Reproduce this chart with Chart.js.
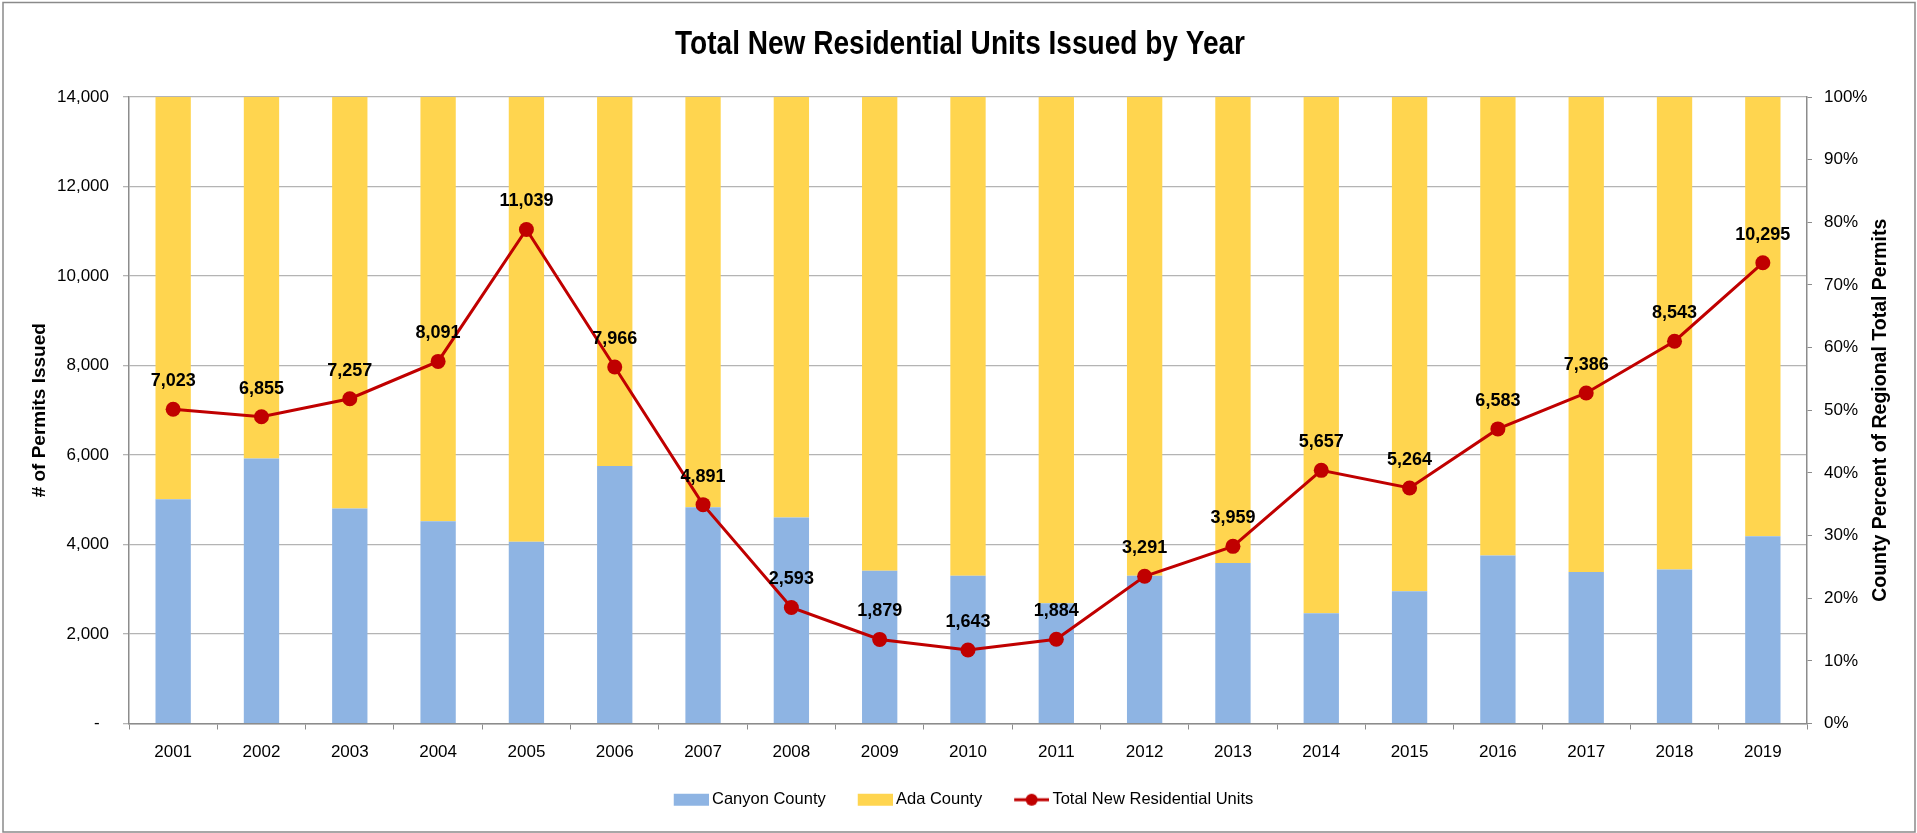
<!DOCTYPE html>
<html>
<head>
<meta charset="utf-8">
<title>Total New Residential Units Issued by Year</title>
<script src="https://cdn.jsdelivr.net/npm/chart.js@4.4.1/dist/chart.umd.min.js"></script>
<style>
  html, body { margin: 0; padding: 0; background: #fff; }
  #wrap { width: 1917px; height: 833px; position: relative; }
</style>
</head>
<body>
<div id="wrap"><canvas id="permitsChart"></canvas></div>
<script>
// --- Data ---
const years = ['2001', '2002', '2003', '2004', '2005', '2006', '2007', '2008', '2009', '2010',
               '2011', '2012', '2013', '2014', '2015', '2016', '2017', '2018', '2019'];

// share of regional permits, percent (right axis)
const canyonPct = [35.8, 42.3, 34.3, 32.3, 29.0, 41.1, 34.5, 32.9, 24.4, 23.6,
                   19.2, 23.6, 25.6, 17.6, 21.1, 26.8, 24.2, 24.6, 29.9];
const adaPct    = [64.2, 57.7, 65.7, 67.7, 71.0, 58.9, 65.5, 67.1, 75.6, 76.4,
                   80.8, 76.4, 74.4, 82.4, 78.9, 73.2, 75.8, 75.4, 70.1];

// total new residential units (left axis)
const totalUnits = [7023, 6855, 7257, 8091, 11039, 7966, 4891, 2593, 1879, 1643,
                    1884, 3291, 3959, 5657, 5264, 6583, 7386, 8543, 10295];

const seriesNames = ['Canyon County', 'Ada County', 'Total New Residential Units'];
const leftAxisMax = 14000;
const leftAxisStep = 2000;
const rightAxisStep = 10;

// --- Colours / fonts ---
const canyonColor = '#8EB4E3';
const adaColor = '#FFD54F';
const lineColor = '#C00000';
const gridColor = '#B4B4B4';
const axisColor = '#8C8C8C';
const sansFont = '"Liberation Sans", Arial, sans-serif';

/**
 * Legend icons: wide canvas with the visible mark on the right part,
 * so the gap before the text stays small like in Excel.
 */
function makeLegendIcon(kind, color) {
    const c = document.createElement('canvas');
    c.width = 64;
    c.height = 20;
    const g = c.getContext('2d');
    if (kind === 'box') {
        g.fillStyle = color;
        g.fillRect(29, 4, 35, 12);
    } else {
        g.strokeStyle = color;
        g.lineWidth = 3;
        g.beginPath();
        g.moveTo(29, 10);
        g.lineTo(64, 10);
        g.stroke();
        g.fillStyle = color;
        g.beginPath();
        g.arc(46.5, 10, 6, 0, Math.PI * 2);
        g.fill();
    }
    return c;
}

const legendIcons = [
    makeLegendIcon('box', canyonColor),
    makeLegendIcon('box', adaColor),
    makeLegendIcon('line', lineColor)
];

// --- Plugin: border, title, axis titles, value labels ---
const chartDecorations = {
    id: 'chartDecorations',
    beforeDraw(chart) {
        const ctx = chart.ctx;
        ctx.save();
        ctx.fillStyle = '#fff';
        ctx.fillRect(0, 0, chart.width, chart.height);
        ctx.restore();
    },
    afterDatasetsDraw(chart) {
        const ctx = chart.ctx;
        const meta = chart.getDatasetMeta(2);
        ctx.save();
        ctx.font = 'bold 18px ' + sansFont;
        ctx.fillStyle = '#000';
        ctx.textAlign = 'center';
        ctx.textBaseline = 'middle';
        meta.data.forEach(function (pt, i) {
            ctx.fillText(totalUnits[i].toLocaleString('en-US'), pt.x, pt.y - 28);
        });
        ctx.restore();
    },
    afterDraw(chart) {
        const ctx = chart.ctx;
        const area = chart.chartArea;
        const midY = (area.top + area.bottom) / 2;

        // outer frame
        ctx.save();
        ctx.strokeStyle = '#8A8A8A';
        ctx.lineWidth = 1.5;
        ctx.strokeRect(3, 2.5, 1912, 829.5);
        ctx.restore();

        // main title (condensed look: squeeze horizontally)
        ctx.save();
        ctx.fillStyle = '#000';
        ctx.textAlign = 'center';
        ctx.textBaseline = 'alphabetic';
        ctx.font = 'bold 33px ' + sansFont;
        ctx.translate(960, 54);
        ctx.scale(0.85, 1);
        ctx.fillText('Total New Residential Units Issued by Year', 0, 0);
        ctx.restore();

        // axis titles, both reading bottom-to-top
        ctx.save();
        ctx.fillStyle = '#000';
        ctx.textAlign = 'center';
        ctx.textBaseline = 'middle';
        ctx.font = 'bold 19px ' + sansFont;
        ctx.translate(40, midY);
        ctx.rotate(-Math.PI / 2);
        ctx.fillText('# of Permits Issued', 0, 0);
        ctx.restore();

        ctx.save();
        ctx.fillStyle = '#000';
        ctx.textAlign = 'center';
        ctx.textBaseline = 'middle';
        ctx.font = 'bold 19.5px ' + sansFont;
        ctx.translate(1881, midY);
        ctx.rotate(-Math.PI / 2);
        ctx.fillText('County Percent of Regional Total Permits', 0, 0);
        ctx.restore();
    }
};

function createPermitsChart() {
    const ctx = document.getElementById('permitsChart');

    const chartData = {
        labels: years,
        datasets: [
            {
                type: 'bar',
                label: seriesNames[0],
                data: canyonPct,
                yAxisID: 'y1',
                backgroundColor: canyonColor,
                categoryPercentage: 1,
                barPercentage: 0.4,
                order: 2
            },
            {
                type: 'bar',
                label: seriesNames[1],
                data: adaPct,
                yAxisID: 'y1',
                backgroundColor: adaColor,
                categoryPercentage: 1,
                barPercentage: 0.4,
                order: 2
            },
            {
                type: 'line',
                label: seriesNames[2],
                data: totalUnits,
                yAxisID: 'y',
                borderColor: lineColor,
                backgroundColor: lineColor,
                borderWidth: 3,
                pointRadius: 7.5,
                pointBorderWidth: 0,
                pointBackgroundColor: lineColor,
                tension: 0,
                order: 1
            }
        ]
    };

    const tickFont = { family: sansFont, size: 17 };

    const chartOptions = {
        responsive: true,
        maintainAspectRatio: false,
        animation: false,
        layout: { padding: { top: 97, left: 0, right: 14, bottom: 15 } },
        scales: {
            x: {
                stacked: true,
                grid: { drawOnChartArea: false, drawTicks: true, tickLength: 6, color: axisColor },
                border: { display: true, color: axisColor, width: 1.5 },
                ticks: { color: '#000', font: tickFont, padding: 13, maxRotation: 0 },
                afterFit(scale) { scale.height = 60; }
            },
            y: {
                position: 'left',
                min: 0,
                max: leftAxisMax,
                grid: { color: gridColor, lineWidth: 1.3, tickLength: 6 },
                border: { display: true, color: axisColor, width: 1.5 },
                ticks: {
                    stepSize: leftAxisStep,
                    color: '#000',
                    padding: 14,
                    font: tickFont,
                    callback: function (v) { return v === 0 ? '-  ' : v.toLocaleString('en-US'); }
                },
                afterFit(scale) { scale.width = 129; }
            },
            y1: {
                position: 'right',
                stacked: true,
                min: 0,
                max: 100,
                grid: { drawOnChartArea: false, tickLength: 5, color: axisColor },
                border: { display: true, color: axisColor, width: 1.5 },
                ticks: {
                    stepSize: rightAxisStep,
                    color: '#000',
                    padding: 12,
                    font: tickFont,
                    callback: function (v) { return v + '%'; }
                },
                afterFit(scale) { scale.width = 96; }
            }
        },
        plugins: {
            title: { display: false },
            tooltip: { enabled: false },
            legend: {
                display: true,
                position: 'bottom',
                labels: {
                    usePointStyle: true,
                    pointStyleWidth: 54,
                    padding: 8,
                    color: '#000',
                    font: { family: sansFont, size: 16.5 },
                    sort: function (a, b) { return a.datasetIndex - b.datasetIndex; },
                    generateLabels: function (chart) {
                        const items = Chart.defaults.plugins.legend.labels.generateLabels(chart);
                        items.forEach(function (it) { it.pointStyle = legendIcons[it.datasetIndex]; });
                        return items;
                    }
                }
            }
        }
    };

    return new Chart(ctx, {
        type: 'bar',
        data: chartData,
        options: chartOptions,
        plugins: [chartDecorations]
    });
}

document.addEventListener('DOMContentLoaded', function () {
    createPermitsChart();
});
</script>
</body>
</html>
